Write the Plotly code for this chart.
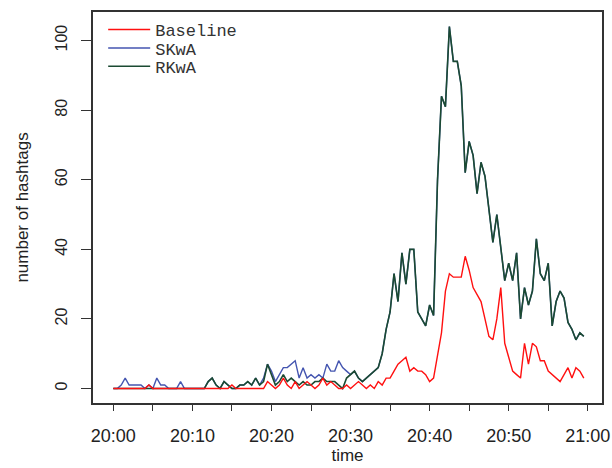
import plotly.graph_objects as go

# minutes after 20:00, sampled every 30 s
MINUTES = [i * 0.5 for i in range(120)]

BASELINE = [
    0, 0, 0, 0, 0, 0, 0, 0, 0, 1,
    0, 0, 0, 0, 0, 0, 0, 0, 0, 0,
    0, 0, 0, 0, 0, 0, 0, 0, 0, 0,
    1, 0, 0, 0, 0, 0, 0, 0, 0, 2,
    1, 0, 1, 3, 1, 0, 2, 0, 1, 2,
    1, 0, 1, 3, 1, 2, 1, 0, 0, 1,
    0, 1, 2, 1, 0, 1, 0, 2, 1, 3,
    3, 5, 7, 8, 9, 5, 6, 5, 5, 4,
    2, 3, 9, 16, 28, 33, 32, 32, 32, 38,
    34, 29, 27, 25, 20, 15, 14, 20, 29, 13,
    9, 5, 4, 3, 13, 7, 13, 12, 8, 8,
    5, 4, 3, 2, 4, 6, 3, 6, 5, 3,
]

SKWA = [
    0, 0, 1, 3, 1, 1, 1, 1, 0, 1,
    0, 3, 1, 1, 0, 0, 0, 2, 0, 0,
    0, 0, 0, 0, 2, 3, 1, 0, 2, 1,
    0, 0, 1, 1, 2, 1, 3, 1, 3, 7,
    5, 2, 4, 6, 6, 7, 8, 3, 6, 3,
    4, 3, 4, 3, 7, 5, 5, 8, 6, 5,
    4, 5, 3, 2, 3, 4, 5, 6, 10, 17,
    22, 33, 25, 39, 30, 40, 40, 22, 20, 18,
    24, 21, 60, 84, 81, 104, 94, 94, 87, 62,
    71, 67, 56, 65, 61, 52, 42, 50, 40, 31,
    36, 31, 39, 20, 29, 24, 28, 43, 33, 31,
    36, 18, 25, 28, 26, 19, 17, 14, 16, 15,
]

RKWA = [
    0, 0, 0, 0, 0, 0, 0, 0, 0, 0,
    0, 0, 0, 0, 0, 0, 0, 0, 0, 0,
    0, 0, 0, 0, 2, 3, 1, 0, 2, 1,
    0, 0, 1, 1, 2, 1, 3, 1, 2, 7,
    4, 1, 2, 4, 2, 3, 2, 1, 2, 1,
    1, 2, 2, 3, 2, 2, 2, 1, 0, 3,
    4, 5, 3, 2, 3, 4, 5, 6, 10, 17,
    22, 33, 25, 39, 30, 40, 40, 22, 20, 18,
    24, 21, 60, 84, 81, 104, 94, 94, 87, 62,
    71, 67, 56, 65, 61, 52, 42, 50, 40, 31,
    36, 31, 39, 20, 29, 24, 28, 43, 33, 31,
    36, 18, 25, 28, 26, 19, 17, 14, 16, 15,
]

TICK_VALS = [0, 10, 20, 30, 40, 50, 60]
TICK_LABELS = ["20:00", "20:10", "20:20", "20:30", "20:40", "20:50", "21:00"]
Y_TICKS = [0, 20, 40, 60, 80, 100]

fig = go.Figure()
fig.add_trace(go.Scatter(x=MINUTES, y=SKWA, mode="lines", name="SKwA",
                         line=dict(color="#4455b0", width=1.4), legend="legend2"))
fig.add_trace(go.Scatter(x=MINUTES, y=RKWA, mode="lines", name="RKwA",
                         line=dict(color="#1b4a32", width=1.6), legend="legend3"))
fig.add_trace(go.Scatter(x=MINUTES, y=BASELINE, mode="lines", name="Baseline",
                         line=dict(color="#ff1010", width=1.4), legend="legend"))

sans = "Liberation Sans, Arial, sans-serif"
mono = "Liberation Mono, DejaVu Sans Mono, monospace"


def leg(ytop):
    return dict(x=0.02, y=ytop, xanchor="left", yanchor="top",
                bgcolor="rgba(0,0,0,0)", borderwidth=0,
                font=dict(family=mono, size=17, color="#333"),
                itemwidth=42)


fig.update_layout(
    width=612, height=468,
    margin=dict(l=93, r=10, t=12, b=65),
    paper_bgcolor="white", plot_bgcolor="white",
    showlegend=True,
    legend=leg(1.0),
    legend2=leg(0.953),
    legend3=leg(0.906),
    xaxis=dict(
        range=[-2.57, 61.8], showgrid=False, zeroline=False, automargin=False,
        showline=True, mirror=True, linecolor="#333", linewidth=1.5,
        tickmode="array", tickvals=TICK_VALS, ticktext=TICK_LABELS,
        ticks="outside", ticklen=6, tickwidth=1.3, tickcolor="#333",
        ticklabelstandoff=10,
        minor=dict(dtick=5, tick0=0, ticks="outside", ticklen=6,
                   tickwidth=1.3, tickcolor="#333", showgrid=False),
        tickfont=dict(family=sans, size=18, color="#222"),
        title=dict(text="time", font=dict(family=sans, size=17, color="#222"),
                   standoff=4),
    ),
    yaxis=dict(
        range=[-4.16, 108.2], showgrid=False, zeroline=False, automargin=False,
        showline=True, mirror=True, linecolor="#333", linewidth=1.5,
        tickmode="array", tickvals=Y_TICKS,
        ticks="outside", ticklen=10, tickwidth=1.3, tickcolor="#333",
        tickangle=-90, ticklabelstandoff=8,
        tickfont=dict(family=sans, size=16, color="#222"),
        title=dict(text="number of hashtags",
                   font=dict(family=sans, size=17, color="#222"), standoff=20),
    ),
)

fig.write_html("out.html",
               config={"displayModeBar": False},
               post_script="document.body.style.margin='0';document.body.style.padding='0';")
